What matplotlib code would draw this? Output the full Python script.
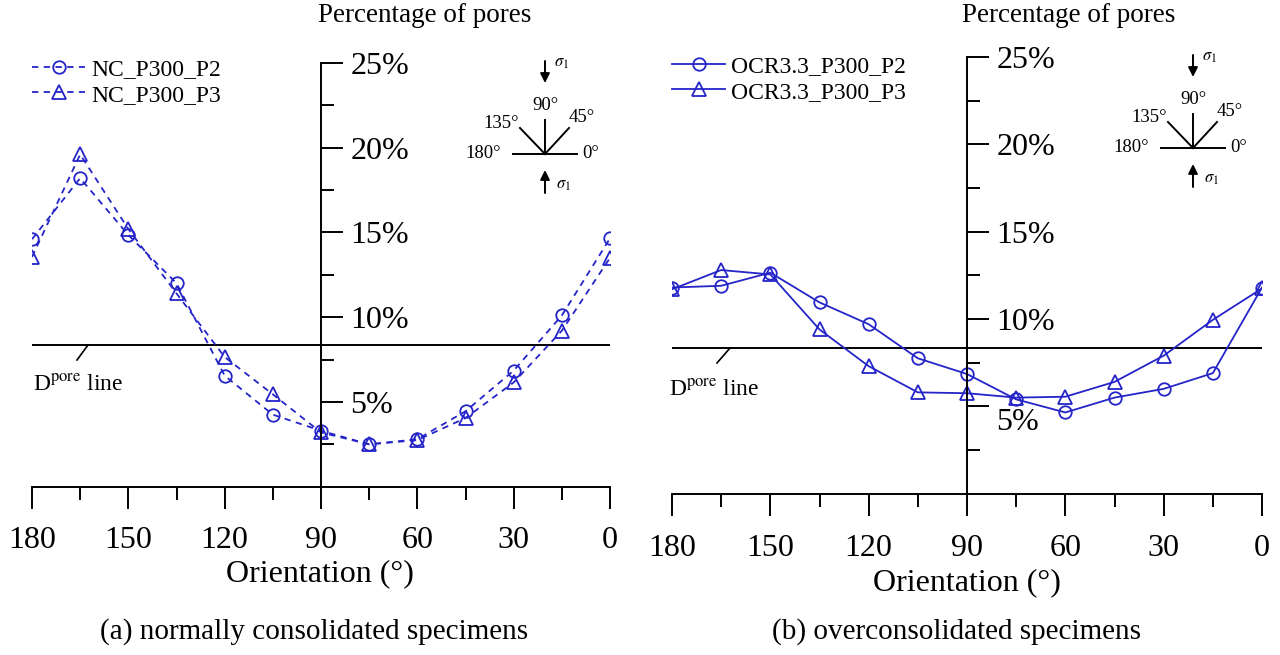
import matplotlib
matplotlib.use('Agg')
import numpy as np
import matplotlib.pyplot as plt
from matplotlib.transforms import ScaledTranslation

plt.rcParams['font.family'] = ['Liberation Serif', 'DejaVu Serif']
plt.rcParams['mathtext.fontset'] = 'stix'

# ---------------- data ----------------
orientation = [180, 165, 150, 135, 120, 105, 90, 75, 60, 45, 30, 15, 0]
nc_p2 = [14.6, 18.2, 14.85, 12.0, 6.55, 4.25, 3.3, 2.5, 2.8, 4.45, 6.85, 10.1, 14.65]
nc_p3 = [13.55, 19.6, 15.2, 11.4, 7.65, 5.45, 3.2, 2.5, 2.75, 4.05, 6.15, 9.2, 13.5]
ocr_p2 = [11.8, 11.9, 12.65, 10.95, 9.7, 7.75, 6.85, 5.4, 4.65, 5.5, 6.0, 6.9, 11.8]
ocr_p3 = [11.7, 12.8, 12.55, 9.4, 7.3, 5.8, 5.75, 5.5, 5.55, 6.4, 7.9, 9.95, 11.75]
labels_a = ['NC_P300_P2', 'NC_P300_P3']
labels_b = ['OCR3.3_P300_P2', 'OCR3.3_P300_P3']
d_pore = 100 / 12
x_major = [0, 30, 60, 90, 120, 150, 180]
x_minor = [15, 45, 75, 105, 135, 165]
y_major = [5, 10, 15, 20, 25]
y_minor = [2.5, 7.5, 12.5, 17.5, 22.5]
captions = ['(a) normally consolidated specimens', '(b) overconsolidated specimens']

W, H = 1280, 655
BLUE = '#2424c8'
fig = plt.figure(figsize=(W / 100, H / 100), dpi=100)


def fr(x0, y0, x1, y1):
    return [x0 / W, 1 - y1 / H, (x1 - x0) / W, (y1 - y0) / H]


axa = fig.add_axes(fr(32, 62.9, 610, 486.7))
axb = fig.add_axes(fr(672, 56.9, 1262, 493.7))


def style(ax, xpad):
    ax.set_xlim(180, 0)
    ax.set_ylim(0, 25)
    ax.patch.set_visible(False)
    ax.spines['top'].set_visible(False)
    ax.spines['left'].set_visible(False)
    ax.spines['right'].set_position(('data', 90))
    for s in ('right', 'bottom'):
        ax.spines[s].set_linewidth(1.4)
    ax.yaxis.tick_right()
    ax.set_yticks(y_major)
    ax.set_yticklabels([f'{v}%' for v in y_major])
    ax.set_yticks(y_minor, minor=True)
    ax.set_xticks(x_major)
    ax.set_xticklabels([str(v) for v in x_major])
    ax.set_xticks(x_minor, minor=True)
    ax.tick_params(which='major', length=16, width=1.4, labelsize=23, direction='out')
    ax.tick_params(which='minor', length=9, width=1.4, direction='out')
    ax.tick_params(axis='x', pad=xpad)
    ax.tick_params(axis='y', pad=5)
    ax.axhline(d_pore, color='k', lw=1.4, zorder=1)


style(axa, 12)
style(axb, 13)

kw = dict(color=BLUE, lw=1.3, mfc='none', mew=1.3)
axa.plot(orientation, nc_p2, marker='o', ms=9, ls=(0, (3.5, 3)), label=labels_a[0], **kw)
axa.plot(orientation, nc_p3, marker='^', ms=10, ls=(0, (3.5, 3)), label=labels_a[1], **kw)
axb.plot(orientation, ocr_p2, marker='o', ms=9, ls='-', label=labels_b[0], **kw)
axb.plot(orientation, ocr_p3, marker='^', ms=10, ls='-', label=labels_b[1], **kw)

for ax, x0, y0 in ((axa, 32, 59), (axb, 672, 56)):
    ax.legend(loc='upper left', bbox_to_anchor=(x0 / W, 1 - y0 / H),
              bbox_transform=fig.transFigure, frameon=False, fontsize=17,
              handlelength=2.25, handletextpad=0.25, labelspacing=0.15,
              borderpad=0, borderaxespad=0)

# overlay for decorations in pixel coordinates
ov = fig.add_axes([0, 0, 1, 1])
ov.set_xlim(0, W)
ov.set_ylim(H, 0)
ov.axis('off')
ov.patch.set_visible(False)


def inset(cx, cy):
    L = 32
    ov.plot([cx - L, cx + L], [cy, cy], color='k', lw=1.4)
    ov.plot([cx, cx], [cy, cy - 34], color='k', lw=1.4)
    ov.plot([cx, cx - 25], [cy, cy - 26], color='k', lw=1.4)
    ov.plot([cx, cx + 24], [cy, cy - 26], color='k', lw=1.4)
    fs = 13.5
    ov.text(cx - 44, cy, '180°', ha='right', va='center', fontsize=fs)
    ov.text(cx + 37, cy, '0°', ha='left', va='center', fontsize=fs)
    ov.text(cx - 26, cy - 31, '135°', ha='right', va='center', fontsize=fs)
    ov.text(cx + 24, cy - 37, '45°', ha='left', va='center', fontsize=fs)
    ov.text(cx, cy - 48, '90°', ha='center', va='center', fontsize=fs)
    ap = dict(arrowstyle='-|>', color='k', lw=1.4, mutation_scale=14, shrinkA=0, shrinkB=0)
    ov.annotate('', xy=(cx, cy - 71), xytext=(cx, cy - 93), arrowprops=ap)
    ov.annotate('', xy=(cx, cy + 16), xytext=(cx, cy + 39), arrowprops=ap)
    ov.text(cx + 9, cy - 91, r'$\sigma_1$', ha='left', va='center', fontsize=12)
    ov.text(cx + 11, cy + 31, r'$\sigma_1$', ha='left', va='center', fontsize=12)


inset(545, 154)
inset(1193, 148)

# D pore line annotations
for (px0, py0, px1, py1, tx, ty) in ((88, 345, 77, 360, 33, 385), (730, 348, 717, 363, 669, 390)):
    ov.plot([px0, px1], [py0, py1], color='k', lw=1.2)
    ov.text(tx, ty, r'D$^{\mathrm{pore}}$ line', ha='left', va='center', fontsize=17)

# axis titles
ov.text(318, 16, 'Percentage of pores', ha='left', va='center', fontsize=19.5)
ov.text(962, 16, 'Percentage of pores', ha='left', va='center', fontsize=19.5)
ov.text(320, 574, 'Orientation (°)', ha='center', va='center', fontsize=23)
ov.text(967, 583, 'Orientation (°)', ha='center', va='center', fontsize=23)
ov.text(314, 632, captions[0], ha='center', va='center', fontsize=21)
ov.text(957, 632, captions[1], ha='center', va='center', fontsize=21)

# the 5% label of panel (b) sits a little lower in the original
for t in axb.yaxis.get_major_ticks():
    if abs(t.get_loc() - 5) < 1e-6:
        t.label2.set_transform(t.label2.get_transform() +
                               ScaledTranslation(0, -13 / 100, fig.dpi_scale_trans))

fig.savefig('out.png', dpi=100)
